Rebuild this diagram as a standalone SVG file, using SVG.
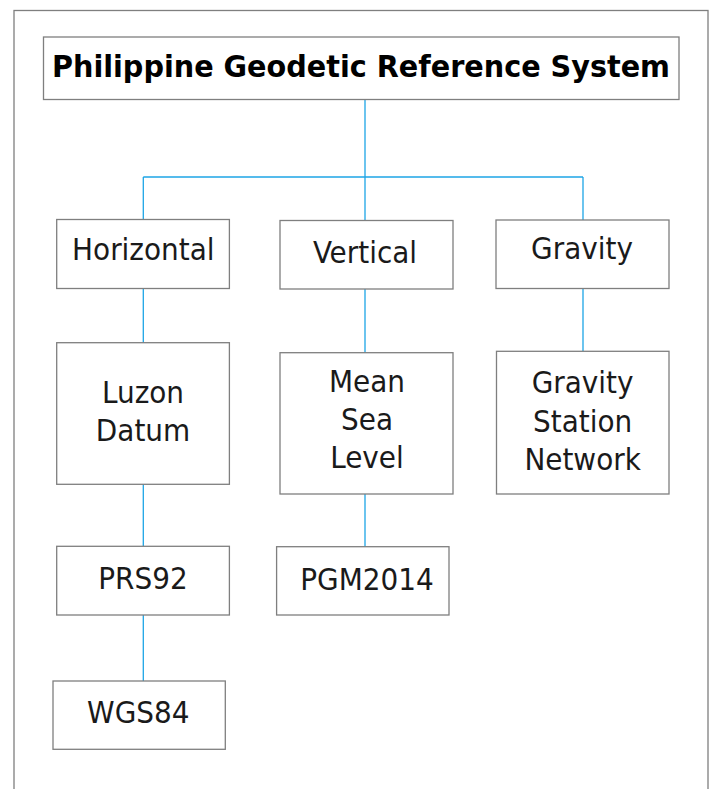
<svg xmlns="http://www.w3.org/2000/svg" width="710" height="789" viewBox="0 0 710 789">
<style>
.box{fill:#fff;stroke:#7f7f7f;stroke-width:1.3}
.frame{fill:none;stroke:#7f7f7f;stroke-width:1.3}
.conn{fill:none;stroke:#1ea5e6;stroke-width:1.3}
.t{font-family:"DejaVu Sans Condensed","Liberation Sans",sans-serif;font-size:31px;fill:#1a1a1a;text-anchor:middle}
.title{font-family:"DejaVu Sans Condensed","DejaVu Sans",sans-serif;font-size:30px;font-weight:bold;fill:#000;text-anchor:middle}
</style>
<rect width="710" height="789" fill="#fff"/>
<rect class="frame" x="14" y="10.5" width="694" height="800"/>
<g id="connectors">
<path class="conn" d="M365,96 V177 M143.3,177 H583 M143.3,177 V220 M365,177 V220 M583,177 V220"/>
<path class="conn" d="M143.3,288 V343 M365,289 V353 M583,289 V351"/>
<path class="conn" d="M143.3,484 V546 M365,494 V547 M143.3,615 V681"/>
</g>
<g id="n-title"><rect class="box" x="43.5" y="37" width="635.5" height="62.5"/><text class="title" x="361" y="77" textLength="618" lengthAdjust="spacingAndGlyphs">Philippine Geodetic Reference System</text></g>
<g id="n-horizontal"><rect class="box" x="56.7" y="219.5" width="172.7" height="69"/><text class="t" x="143.3" y="260">Horizontal</text></g>
<g id="n-vertical"><rect class="box" x="280" y="220.5" width="173" height="68.5"/><text class="t" x="365" y="263">Vertical</text></g>
<g id="n-gravity"><rect class="box" x="496" y="220" width="173" height="68.5"/><text class="t" x="582" y="259">Gravity</text></g>
<g id="n-luzon"><rect class="box" x="56.7" y="342.7" width="172.7" height="141.6"/><text class="t" x="143" y="403">Luzon</text><text class="t" x="143" y="441">Datum</text></g>
<g id="n-msl"><rect class="box" x="280" y="352.7" width="173" height="141.3"/><text class="t" x="367" y="391.5">Mean</text><text class="t" x="367" y="430">Sea</text><text class="t" x="367" y="468.3">Level</text></g>
<g id="n-gsn"><rect class="box" x="496.5" y="351.3" width="172.5" height="142.7"/><text class="t" x="582.6" y="393">Gravity</text><text class="t" x="582.6" y="431.7">Station</text><text class="t" x="582.6" y="470">Network</text></g>
<g id="n-prs92"><rect class="box" x="56.7" y="546.3" width="172.7" height="68.7"/><text class="t" x="143" y="589.3">PRS92</text></g>
<g id="n-pgm2014"><rect class="box" x="276.6" y="546.7" width="172.4" height="68.3"/><text class="t" x="367" y="590">PGM2014</text></g>
<g id="n-wgs84"><rect class="box" x="53" y="681" width="172.3" height="68.3"/><text class="t" x="138.3" y="723.3">WGS84</text></g>
</svg>
